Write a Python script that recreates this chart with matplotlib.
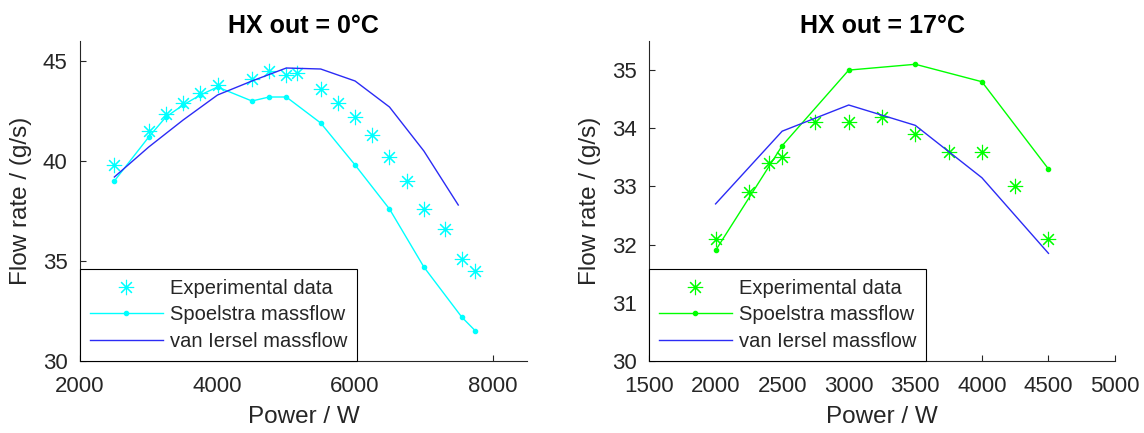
import matplotlib
matplotlib.use("Agg")
import matplotlib.pyplot as plt

plt.rcParams['font.family'] = ['Liberation Sans', 'DejaVu Sans']

# ---- data: HX out = 0 C ----
exp0_power = [2500, 3000, 3250, 3500, 3750, 4000, 4500, 4750, 5000, 5150,
              5500, 5750, 6000, 6250, 6500, 6750, 7000, 7300, 7550, 7750]
exp0_flow = [39.8, 41.5, 42.35, 42.9, 43.4, 43.8, 44.1, 44.5, 44.3, 44.4,
             43.6, 42.9, 42.2, 41.3, 40.2, 39.0, 37.6, 36.6, 35.1, 34.5]
spo0_power = [2500, 3000, 3250, 3500, 3750, 4000, 4500, 4750, 5000,
              5500, 6000, 6500, 7000, 7550, 7750]
spo0_flow = [39.0, 41.2, 42.2, 42.8, 43.3, 43.7, 43.0, 43.2, 43.2,
             41.9, 39.8, 37.6, 34.7, 32.2, 31.5]
vi0_power = [2500, 3000, 3500, 4000, 4500, 5000, 5500, 6000, 6500, 7000, 7500]
vi0_flow = [39.2, 40.7, 42.05, 43.3, 44.0, 44.65, 44.6, 44.0, 42.7, 40.5, 37.8]

# ---- data: HX out = 17 C ----
exp17_power = [2000, 2250, 2400, 2500, 2750, 3000, 3250, 3500, 3750, 4000, 4250, 4500]
exp17_flow = [32.1, 32.9, 33.4, 33.5, 34.1, 34.1, 34.2, 33.9, 33.6, 33.6, 33.0, 32.1]
spo17_power = [2000, 2500, 3000, 3500, 4000, 4500]
spo17_flow = [31.9, 33.7, 35.0, 35.1, 34.8, 33.3]
vi17_power = [2000, 2500, 3000, 3500, 4000, 4500]
vi17_flow = [32.7, 33.95, 34.4, 34.05, 33.15, 31.85]

dark = '#262626'

fig = plt.figure(figsize=(11.44, 4.33), dpi=100)
ax1 = fig.add_axes([0.0699, 0.1663, 0.3908, 0.739])
ax2 = fig.add_axes([0.5673, 0.1663, 0.4074, 0.739])


def draw(ax, col, ep, ef, sp, sf, vp, vf, title, xlim, xticks, ylim, yticks):
    ax.plot(ep, ef, linestyle='none', marker=(8, 2, 0), markersize=11,
            markeredgewidth=0.8, color=col, label='Experimental data')
    ax.plot(sp, sf, '-', marker='.', markersize=6, lw=1.0, color=col,
            label='Spoelstra massflow')
    ax.plot(vp, vf, '-', lw=1.0, color='#2b2bf5', label='van Iersel massflow')
    ax.set_xlim(*xlim)
    ax.set_ylim(*ylim)
    ax.set_xticks(xticks)
    ax.set_yticks(yticks)
    for s in ('top', 'right'):
        ax.spines[s].set_visible(False)
    for s in ('left', 'bottom'):
        ax.spines[s].set_color(dark)
        ax.spines[s].set_linewidth(0.8)
    ax.tick_params(direction='in', length=4, width=0.8, color=dark,
                   labelcolor=dark, labelsize=16)
    ax.tick_params(axis='x', pad=11)
    ax.tick_params(axis='y', pad=9)
    ax.set_title(title, fontsize=18, fontweight='bold', color='black', pad=6)
    ax.set_xlabel('Power / W', fontsize=17.5, color=dark, labelpad=6)
    ax.set_ylabel('Flow rate / (g/s)', fontsize=17.5, color=dark, labelpad=8)
    leg = ax.legend(loc='lower left', bbox_to_anchor=(0, 0), borderaxespad=0,
                    fontsize=14.5, handlelength=3.6, handletextpad=0.35,
                    labelspacing=0.38, borderpad=0.5, fancybox=False,
                    framealpha=1)
    leg.get_frame().set_edgecolor('black')
    leg.get_frame().set_linewidth(0.8)
    for t in leg.get_texts():
        t.set_color(dark)


draw(ax1, 'cyan', exp0_power, exp0_flow, spo0_power, spo0_flow,
     vi0_power, vi0_flow, 'HX out = 0°C', (2000, 8500),
     [2000, 4000, 6000, 8000], (30, 46), [30, 35, 40, 45])
draw(ax2, 'lime', exp17_power, exp17_flow, spo17_power, spo17_flow,
     vi17_power, vi17_flow, 'HX out = 17°C', (1500, 5000),
     [1500, 2000, 2500, 3000, 3500, 4000, 4500, 5000], (30, 35.5),
     [30, 31, 32, 33, 34, 35])

fig.savefig('out.png', dpi=100)
